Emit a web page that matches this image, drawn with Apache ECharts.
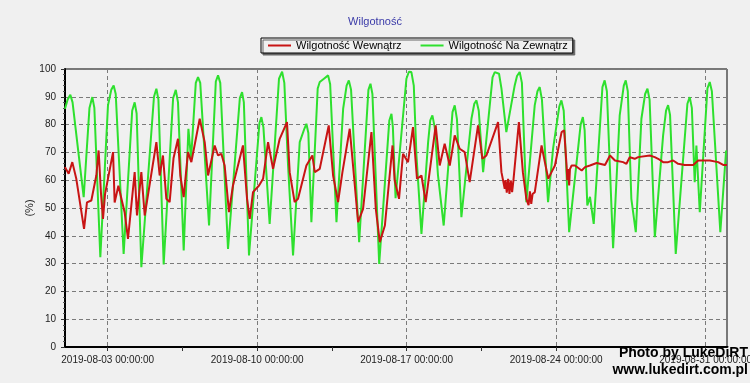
<!DOCTYPE html>
<html>
<head>
<meta charset="utf-8">
<script src="https://cdn.jsdelivr.net/npm/echarts@6/dist/echarts.min.js"></script>
<style>
html,body{margin:0;padding:0;background:#f0f0f0;}
#c{width:750px;height:383px;}
</style>
</head>
<body>
<div id="c"></div>
<script>
// hours since 2019-08-01 00:00:00
const xTickHours = [48, 216, 384, 552, 720];
const xTickLabels = ['2019-08-03 00:00:00','2019-08-10 00:00:00','2019-08-17 00:00:00','2019-08-24 00:00:00','2019-08-31 00:00:00'];
const xMinorHours = [132, 300, 468, 636];

const greenHours = [0,3,6,8.5,14.6,21,27.5,30.7,33,39.7,48.3,52,54.7,57,65.9,75.5,78.3,80.5,85.8,100,102.7,105,110.9,121.5,124.5,127,133.4,138.7,141.7,144.7,147,149.5,152,161.9,169.5,172,174.5,183.2,196.5,199,201,206.8,218.5,220.7,223,230,240.5,244,246.5,250.7,256.3,263.8,269,271.3,273.5,276.9,284,286.3,291,295.7,298,305.1,312.6,316.5,319,321.5,330.6,341,343.3,345.5,353.1,364.5,366.9,368.5,371.5,383.7,386.5,389.3,392,395,400.6,408.1,410.5,412.9,415.5,419.2,425.6,435.5,438,440.5,445.5,456.8,460,462.4,465,469.9,480.5,483,487.8,490.5,496,505.4,508,511,513.5,518.5,527.9,531,533.5,536,542.9,548.5,555.5,557.9,560.5,566.6,579.5,582,584,587,590,594.2,604,606.5,609,616,623.4,628,630.2,632.5,636.5,641.5,647.8,652,654.6,657,662.9,672.2,675.5,677.8,680,686.4,699.5,702.1,704.5,707.7,709.6,713.4,722,724.6,727,736.5,743];
const greenValues = [85.7,89,90.7,88,71.3,53.9,86,89.9,86,32.3,86.9,92.5,94.1,91,33.5,85,88,84,28.7,90,92.9,89,29.7,89.5,92.5,88,34.7,78.5,67.7,83.3,95,97.1,95,43.7,95.5,97.7,95,35.3,89.5,91.7,88,32.9,80.5,82.7,79,44.3,96.5,99,95,65.3,32.9,73.7,78.5,80.3,77,44.9,93,95.3,96.5,97.7,94.5,44.9,85.7,94,95.9,92.5,37.7,92.5,94.7,91,29.9,81.5,83.9,79,53.5,96.5,99,98.9,94,68.9,40.7,73.7,81.5,83.3,79,61.7,43.7,84.5,86.9,82,46.7,82.1,87.5,88.7,85,62.9,97,98.9,98.3,93,77.3,94.1,97.5,98.9,95,52.1,86.9,92,93.5,89,52.1,71.3,86.5,88.7,85,41.3,80,82.7,78,50.9,54,44.3,93.5,95.9,92,35.5,83.3,94,95.9,92,53.3,41.3,82.1,91,92.9,89,39.5,76.1,85,87,83.5,33.5,87.5,89.9,86,59.3,72.5,48.5,93,95.3,92,41.3,70.7];

const redHours = [0,4.1,8.2,12.7,21.4,24.7,29.6,35.2,37.8,40.5,42.7,45,54,55.8,60,67,70.8,78.3,80.9,85.8,89.6,102.7,106.4,110.1,113.9,117.6,122,127,129.6,133.4,138.2,142,151.4,157,160.8,168.2,172,175.7,179.4,184.3,188.8,200,204.6,207.6,211.3,218.1,222.6,228.2,233.8,241.3,249.5,252.5,258.1,261.9,271.3,278,280.7,286.3,296.4,301.3,306.9,311.8,320,329.4,335,344.4,349.3,353.8,359.5,368.1,370.5,375.4,379.9,385.5,391.1,395.6,400.6,405.4,416.6,421.1,426.7,432.4,438,443.6,449.2,454.8,464.2,469.1,473.6,486.7,490.5,494.2,495,496.5,498,499.5,501,502.5,504,510.1,514.6,518.5,521,522.5,524,525.5,528,535.6,539.3,543.1,546.8,550.6,558.1,561,563.7,564.5,565.5,566.6,567.5,569.4,573.2,580.7,584.4,590,597.5,606.9,612.5,618.1,627.2,631,634.7,640.3,644.1,657.2,662.8,666.6,672.2,677.8,683.5,689.1,696.6,706,711.6,724.7,734.1,739.7,744];
const redValues = [64.7,62.3,66.5,60.5,42.5,52,52.7,61.7,70.7,55,46.1,55,70.1,52,58,48.5,38.9,62.9,47.3,62.9,47.3,73.7,61.7,68.9,53.3,52.1,68,74.9,61.7,53.9,70.1,66.5,82.1,73.7,61.7,72.5,68.9,69.5,65.3,48.5,58.1,72.5,53.3,46.1,55.7,58.1,60.5,73.7,64.1,74.9,80.9,62.9,52.1,53.3,65.3,68.9,62.9,64.1,79.7,61.7,52.1,62.9,78.5,44.9,49.7,77.3,49.7,37.7,43.7,72.5,60,53.3,69.5,66.5,79.1,60.5,61.7,52.1,79.7,65.3,73.1,65.3,76.1,71.3,70.1,59.3,79.7,67.7,68.9,80.9,62.9,56.9,60,55.5,60.5,55.1,59.9,55.7,60,80.9,62.9,53.3,51,56,51.5,55,55.7,72.5,66.5,60.5,62.9,65.3,77.3,77.9,65.3,60,64,58.1,64,65.3,65.3,63.5,64.7,65.3,66.2,65.5,68.9,67.1,66.5,65.9,68.3,67.7,68.3,68.9,68.3,67.7,66.5,66.5,67.1,65.9,65.5,65.5,67.1,67.1,66.5,65.5,65.5];

const pairs = (h, v) => h.map((x, i) => [x, v[i]]);
const baseFont = "'Liberation Sans',Arial,sans-serif";
const chart = echarts.init(document.getElementById('c'));
chart.setOption({
  animation: false,
  backgroundColor: '#f0f0f0',
  title: {
    text: 'Wilgotność', left: 'center', top: 11,
    textStyle: {fontSize: 11, fontWeight: 'normal', color: '#3a3aa8', fontFamily: baseFont}
  },
  legend: {
    left: 261, top: 38,
    padding: [2, 5, 2, 7],
    itemGap: 19, itemWidth: 23, itemHeight: 2, icon: 'rect',
    borderColor: '#000', borderWidth: 1,
    backgroundColor: '#f0f0f0',
    shadowColor: '#666', shadowOffsetX: 2, shadowOffsetY: 2, shadowBlur: 0,
    textStyle: {fontSize: 11, color: '#000', fontFamily: baseFont, padding: [1,0,0,0]},
    data: ['Wilgotność Wewnątrz', 'Wilgotność Na Zewnątrz']
  },
  grid: {left: 65, right: 23, top: 69, bottom: 36, outerBoundsMode: 'none', containLabel: false,
    show: true, borderColor: '#000', borderWidth: 1, backgroundColor: 'transparent'},
  xAxis: [{
    type: 'value', min: 0, max: 744,
    axisLine: {show: true, lineStyle: {color: '#000', width: 2}},
    axisTick: {show: true, customValues: xTickHours, length: 4, lineStyle: {color: '#333'}},
    axisLabel: {customValues: xTickHours, margin: 8, fontSize: 10, color: '#222', fontFamily: baseFont,
      hideOverlap: false,
      formatter: (v) => { const i = xTickHours.indexOf(v); return i >= 0 ? xTickLabels[i] : ''; }},
    splitLine: {show: true, lineStyle: {color: '#7a7a7a', type: [4, 3], width: 1}}
  }, {
    type: 'value', min: 0, max: 744, position: 'bottom',
    axisLine: {show: false},
    axisTick: {show: true, customValues: xMinorHours, length: 4, lineStyle: {color: '#333'}},
    axisLabel: {show: false},
    splitLine: {show: false}
  }],
  yAxis: {
    type: 'value', min: 0, max: 100, interval: 10,
    name: '(%)', nameLocation: 'middle', nameGap: 30, nameRotate: 90, nameMoveOverlap: false,
    nameTextStyle: {fontSize: 11, color: '#222', fontFamily: baseFont},
    axisLine: {show: true, lineStyle: {color: '#000', width: 2}},
    axisTick: {show: true, length: 4, lineStyle: {color: '#333'}},
    minorTick: {show: true, splitNumber: 5, length: 2, lineStyle: {color: '#555'}},
    axisLabel: {margin: 9, fontSize: 10, color: '#222', fontFamily: baseFont},
    splitLine: {show: true, lineStyle: {color: '#7a7a7a', type: [4, 3], width: 1}}
  },
  series: [{
    name: 'Wilgotność Na Zewnątrz', type: 'line', xAxisIndex: 0,
    data: pairs(greenHours, greenValues), showSymbol: false, symbol: 'none',
    itemStyle: {color: '#2ee02e'}, lineStyle: {color: '#2ee02e', width: 2}, z: 2
  }, {
    name: 'Wilgotność Wewnątrz', type: 'line', xAxisIndex: 0,
    data: pairs(redHours, redValues), showSymbol: false, symbol: 'none',
    itemStyle: {color: '#c81414'}, lineStyle: {color: '#c81414', width: 2}, z: 3
  }],
  graphic: [
    {type: 'text', right: 2, top: 346, z: 100, style: {text: 'Photo by LukeDiRT', font: "bold 14px 'Liberation Sans',Arial,sans-serif", fill: '#000'}},
    {type: 'text', right: 2, top: 363, z: 100, style: {text: 'www.lukedirt.com.pl', font: "bold 14px 'Liberation Sans',Arial,sans-serif", fill: '#000'}}
  ]
});
</script>
</body>
</html>
